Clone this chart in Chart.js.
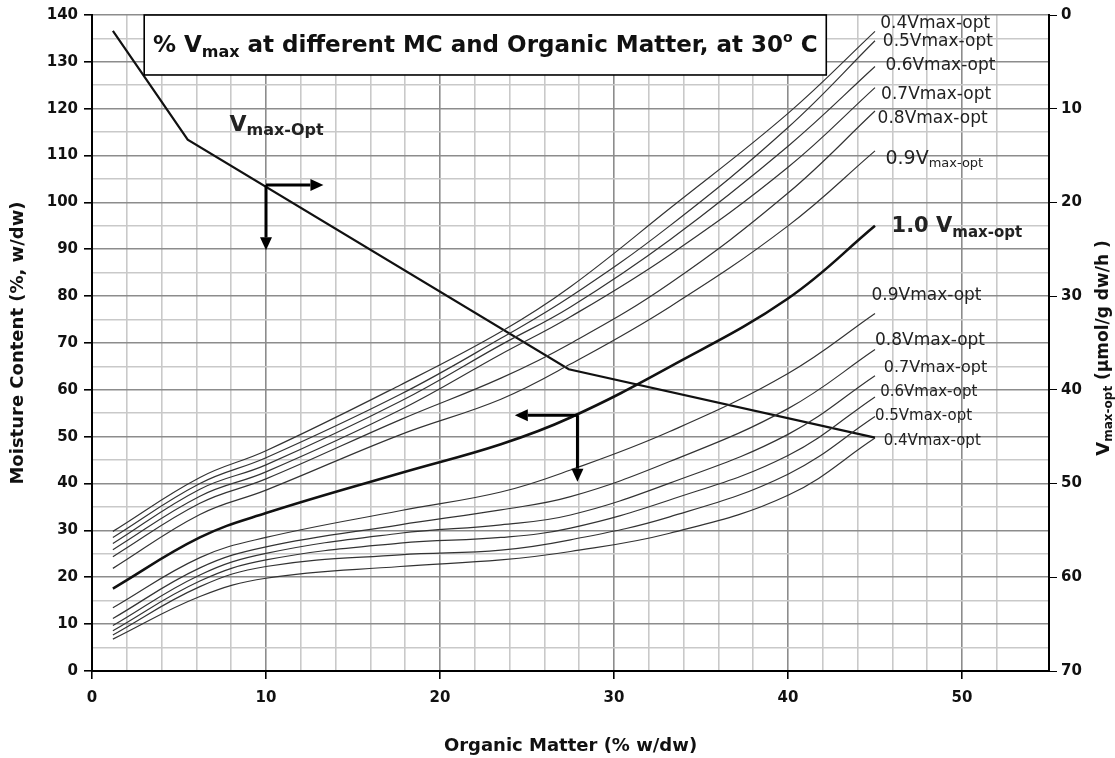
<!DOCTYPE html>
<html>
<head>
<meta charset="utf-8">
<title>% Vmax at different MC and Organic Matter</title>
<script src="https://cdn.jsdelivr.net/npm/chart.js@4.4.1/dist/chart.umd.min.js"></script>
<style>
  html, body { margin: 0; padding: 0; background: #fff; }
  #wrap { width: 1115px; height: 758px; }
</style>
</head>
<body>
<div id="wrap"><canvas id="chart" width="1115" height="758"></canvas></div>
<script>
// organic matter (% w/dw) where the curves were read
const organicMatter = [1.2, 6.2, 10, 17.7, 23.5, 27.5, 33.2, 40, 45];

// moisture content (% w/dw), curves above the optimum
const upper04 = [29.8, 41.3, 47.0, 61.0, 72.4, 82.0, 98.7, 119.0, 136.5];
const upper05 = [28.5, 40.0, 45.5, 59.0, 71.0, 79.9, 95.0, 116.0, 134.5];
const upper06 = [27.2, 38.8, 44.0, 57.5, 69.6, 77.7, 92.0, 112.0, 129.0];
const upper07 = [25.9, 37.3, 42.5, 55.7, 67.6, 75.6, 88.8, 107.5, 124.5];
const upper08 = [24.4, 35.8, 41.0, 53.6, 62.5, 69.9, 82.7, 102.0, 119.5];
const upper09 = [21.9, 33.4, 38.6, 50.4, 58.0, 65.5, 77.7, 95.0, 111.0];
// the optimum itself
const optimum10 = [17.6, 28.5, 33.7, 42.2, 48.4, 54.1, 64.9, 79.5, 95.0];
// curves below the optimum
const lower09 = [13.5, 24.2, 28.5, 34.2, 38.2, 42.9, 51.1, 63.5, 76.3];
const lower08 = [11.2, 22.0, 26.5, 31.2, 34.4, 37.2, 44.7, 56.0, 68.6];
const lower07 = [9.7, 20.5, 25.1, 29.4, 31.2, 33.3, 40.1, 50.5, 63.0];
const lower06 = [8.6, 19.2, 23.7, 27.3, 28.5, 30.5, 36.5, 46.0, 58.5];
const lower05 = [7.7, 18.0, 22.3, 24.8, 25.8, 28.0, 32.9, 42.0, 54.3];
const lower04 = [6.8, 15.9, 19.8, 22.3, 23.7, 25.5, 29.4, 37.5, 49.7];

// Vmax-opt (umol/g dw/h) on the right axis
const vmaxOM = [1.2, 5.5, 27.4, 45.0];
const vmaxOpt = [1.7, 13.3, 37.8, 45.1];

const FF = '"DejaVu Sans", "Liberation Sans", Arial, sans-serif';

function pts(ys, xs) {
  xs = xs || organicMatter;
  return ys.map((v, i) => ({x: xs[i], y: v}));
}

function curve(ys, width) {
  return {
    data: pts(ys),
    borderColor: width > 2 ? '#111' : '#333',
    borderWidth: width,
    pointRadius: 0,
    tension: 0.4,
    fill: false,
    yAxisID: 'y'
  };
}

const datasets = [
  curve(upper04, 1.2), curve(upper05, 1.2), curve(upper06, 1.2),
  curve(upper07, 1.2), curve(upper08, 1.2), curve(upper09, 1.2),
  curve(optimum10, 2.6),
  curve(lower09, 1.2), curve(lower08, 1.2), curve(lower07, 1.2),
  curve(lower06, 1.2), curve(lower05, 1.2), curve(lower04, 1.2),
  {
    data: pts(vmaxOpt, vmaxOM),
    borderColor: '#111',
    borderWidth: 2.2,
    pointRadius: 0,
    tension: 0,
    fill: false,
    yAxisID: 'y2'
  }
];

// annotations, positions in data units (x: organic matter, y: moisture content)
const curveLabels = [
  {x: 45.3, y: 138.2, parts: [['0.4Vmax-opt', 17]]},
  {x: 45.45, y: 134.3, parts: [['0.5Vmax-opt', 17]]},
  {x: 45.6, y: 129.3, parts: [['0.6Vmax-opt', 17]]},
  {x: 45.35, y: 123.1, parts: [['0.7Vmax-opt', 17]]},
  {x: 45.15, y: 118.0, parts: [['0.8Vmax-opt', 17]]},
  {x: 45.6, y: 109.3, parts: [['0.9V', 19], ['max-opt', 13, 5]]},
  {x: 45.95, y: 94.8, parts: [['1.0 V', 21, 0, true], ['max-opt', 15, 6, true]]},
  {x: 44.8, y: 80.2, parts: [['0.9Vmax-opt', 17]]},
  {x: 45.0, y: 70.6, parts: [['0.8Vmax-opt', 17]]},
  {x: 45.5, y: 64.6, parts: [['0.7Vmax-opt', 16]]},
  {x: 45.3, y: 59.6, parts: [['0.6Vmax-opt', 15]]},
  {x: 45.0, y: 54.3, parts: [['0.5Vmax-opt', 15]]},
  {x: 45.5, y: 49.1, parts: [['0.4Vmax-opt', 15]]},
  {x: 7.9, y: 116.5, parts: [['V', 22, 0, true], ['max-Opt', 16, 6, true]]}
];

const arrows = [
  {from: [10, 103.7], to: [13.3, 103.7]},
  {from: [10, 103.7], to: [10, 89.8]},
  {from: [27.9, 54.6], to: [24.3, 54.6]},
  {from: [27.9, 54.6], to: [27.9, 40.4]}
];

const titleBox = {x0: 3.0, x1: 42.2, y0: 127.2, y1: 140};

function richWidth(ctx, parts) {
  let w = 0;
  parts.forEach(p => {
    ctx.font = (p[3] ? 'bold ' : '') + p[1] + 'px ' + FF;
    w += ctx.measureText(p[0]).width;
  });
  return w;
}

function drawRich(ctx, x, y, parts) {
  let cx = x;
  ctx.textBaseline = 'middle';
  ctx.textAlign = 'left';
  parts.forEach(p => {
    ctx.font = (p[3] ? 'bold ' : '') + p[1] + 'px ' + FF;
    ctx.fillText(p[0], cx, y + (p[2] || 0));
    cx += ctx.measureText(p[0]).width;
  });
}

function drawArrow(ctx, x1, y1, x2, y2) {
  const ang = Math.atan2(y2 - y1, x2 - x1);
  const head = 13, half = 6;
  ctx.beginPath();
  ctx.moveTo(x1, y1);
  ctx.lineTo(x2 - Math.cos(ang) * head, y2 - Math.sin(ang) * head);
  ctx.stroke();
  ctx.beginPath();
  ctx.moveTo(x2, y2);
  ctx.lineTo(x2 - Math.cos(ang) * head - Math.sin(ang) * half, y2 - Math.sin(ang) * head + Math.cos(ang) * half);
  ctx.lineTo(x2 - Math.cos(ang) * head + Math.sin(ang) * half, y2 - Math.sin(ang) * head - Math.cos(ang) * half);
  ctx.closePath();
  ctx.fill();
}

const overlay = {
  id: 'overlay',
  afterDatasetsDraw(chart) {
    const {ctx, scales: {x, y}} = chart;
    ctx.save();

    // arrows
    ctx.strokeStyle = '#000';
    ctx.fillStyle = '#000';
    ctx.lineWidth = 3;
    arrows.forEach(a => {
      drawArrow(ctx, x.getPixelForValue(a.from[0]), y.getPixelForValue(a.from[1]),
        x.getPixelForValue(a.to[0]), y.getPixelForValue(a.to[1]));
    });

    // title box
    const bx0 = x.getPixelForValue(titleBox.x0), bx1 = x.getPixelForValue(titleBox.x1);
    const by0 = y.getPixelForValue(titleBox.y1), by1 = y.getPixelForValue(titleBox.y0);
    ctx.fillStyle = '#fff';
    ctx.fillRect(bx0, by0, bx1 - bx0, by1 - by0);
    ctx.lineWidth = 1.6;
    ctx.strokeStyle = '#000';
    ctx.strokeRect(bx0, by0, bx1 - bx0, by1 - by0);
    const titleParts = [
      ['% V', 23, 0, true], ['max', 16, 7, true],
      [' at different MC and Organic Matter, at 30', 23, 0, true],
      ['o', 14, -8, true], [' C', 23, 0, true]
    ];
    ctx.fillStyle = '#111';
    const tw = richWidth(ctx, titleParts);
    drawRich(ctx, (bx0 + bx1) / 2 - tw / 2, (by0 + by1) / 2 + 1, titleParts);

    // curve labels
    ctx.fillStyle = '#222';
    curveLabels.forEach(l => {
      drawRich(ctx, x.getPixelForValue(l.x), y.getPixelForValue(l.y), l.parts);
    });

    // right axis title
    const rParts = [['V', 18, 0, true], ['max-opt', 12, 5, true], [' (\u00b5mol/g dw/h )', 17, 0, true]];
    const rw = richWidth(ctx, rParts);
    ctx.translate(1104, (chart.chartArea.top + chart.chartArea.bottom) / 2 + 5);
    ctx.rotate(-Math.PI / 2);
    ctx.fillStyle = '#111';
    drawRich(ctx, -rw / 2, 0, rParts);
    ctx.restore();
  }
};

const tickFont = {family: FF, size: 15, weight: 'bold'};

new Chart(document.getElementById('chart'), {
  type: 'line',
  data: {datasets},
  plugins: [overlay],
  options: {
    responsive: false,
    animation: false,
    devicePixelRatio: 1,
    layout: {padding: {top: 15, left: 0, right: 0, bottom: 0}},
    plugins: {legend: {display: false}, tooltip: {enabled: false}},
    scales: {
      x: {
        type: 'linear',
        position: 'bottom',
        min: 0, max: 55,
        afterFit(s) { s.height = 87; },
        ticks: {
          stepSize: 2, autoSkip: false, maxRotation: 0,
          font: tickFont, color: '#111', padding: 10,
          callback: v => (v % 10 === 0 ? v : '')
        },
        grid: {
          color: c => (c.tick && c.tick.value % 10 === 0 ? '#8c8c8c' : '#c9c9c9'),
          lineWidth: 1.6,
          tickLength: 8,
          tickColor: c => (c.tick && c.tick.value % 10 === 0 ? '#000' : 'rgba(0,0,0,0)')
        },
        border: {color: '#000', width: 2},
        title: {
          display: true, text: 'Organic Matter (% w/dw)',
          font: {family: FF, size: 18, weight: 'bold'}, color: '#111',
          padding: {top: 4, bottom: 1}
        }
      },
      y: {
        position: 'left',
        min: 0, max: 140,
        afterFit(s) { s.width = 92; },
        ticks: {
          stepSize: 5, autoSkip: false,
          font: tickFont, color: '#111', padding: 6,
          callback: v => (v % 10 === 0 ? v : '')
        },
        grid: {
          color: c => (c.tick && c.tick.value % 10 === 0 ? '#8c8c8c' : '#c9c9c9'),
          lineWidth: 1.6,
          tickLength: 8,
          tickColor: c => (c.tick && c.tick.value % 10 === 0 ? '#000' : 'rgba(0,0,0,0)')
        },
        border: {color: '#000', width: 2},
        title: {
          display: true, text: 'Moisture Content (%, w/dw)',
          font: {family: FF, size: 18, weight: 'bold'}, color: '#111',
          padding: {top: 8, bottom: 4}
        }
      },
      y2: {
        position: 'right',
        min: 0, max: 70,
        reverse: true,
        afterFit(s) { s.width = 66; },
        ticks: {
          stepSize: 10, font: tickFont, color: '#111', padding: 4
        },
        grid: {drawOnChartArea: false, tickLength: 8, tickColor: '#000'},
        border: {color: '#000', width: 2}
      }
    }
  }
});
</script>
</body>
</html>
